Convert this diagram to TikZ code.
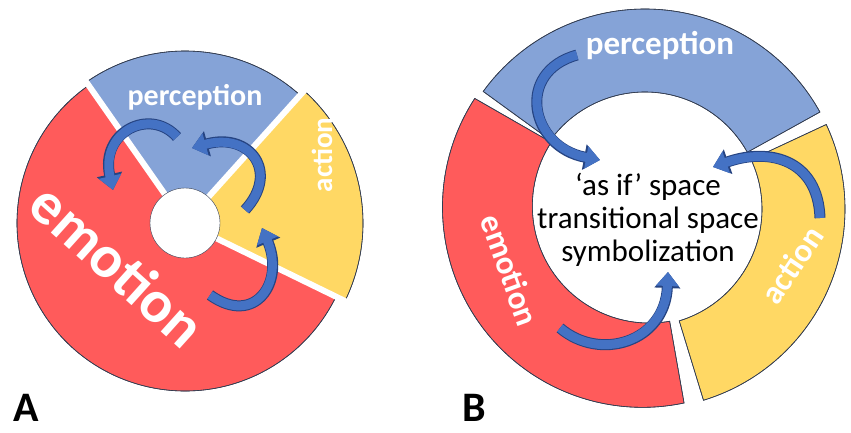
\documentclass[tikz,border=0pt]{standalone}
\usepackage{fontspec}
\setmainfont{Carlito}
\usetikzlibrary{arrows.meta}
\definecolor{colemotion}   {RGB}{255, 91, 91}
\definecolor{colperception}{RGB}{133,163,215}
\definecolor{colaction}    {RGB}{255,216,100}
\definecolor{colarrow}     {RGB}{ 68,114,196}
\definecolor{colarrowdark} {RGB}{ 38, 68,130}
\definecolor{coledge}      {RGB}{ 50, 60, 80}

\begin{document}
\begin{tikzpicture}[
    x=1pt, y=1pt,
    sector/.style={draw=coledge,line width=0.6pt},
    gap/.style={white,line width=6pt},
    label/.style={font={\fontsize{30}{32}\selectfont\bfseries},text=white},
    inner/.style={font={\fontsize{31}{33}\selectfont},align=center},
    panel/.style={font={\fontsize{42}{42}\selectfont\bfseries}},
    flow/.style={colarrow,line width=9pt,-{Triangle[width=22pt,length=14pt]},
        preaction={draw=colarrowdark,line width=11pt,-{Triangle[width=25pt,length=16pt]}}},
]
    \useasboundingbox (0,0) rectangle (851,432);

    % panel A
    \coordinate (cA) at (185,209);
    \fill[sector,fill=colperception] (cA) -- ++(48:172) arc[start angle=48,end angle=125,radius=172] -- cycle;
    \fill[sector,fill=colaction] (cA) -- ++(-26:178) arc[start angle=-26,end angle=48,radius=178] -- cycle;
    \fill[sector,fill=colemotion] (cA) -- ++(125:168) arc[start angle=125,end angle=334,radius=168] -- cycle;
    \draw[sector] (cA) ++(48:172) arc[start angle=48,end angle=125,radius=172];
    \draw[sector] (cA) ++(-26:178) arc[start angle=-26,end angle=48,radius=178];
    \draw[sector] (cA) ++(125:168) arc[start angle=125,end angle=334,radius=168];
    \foreach \a in {48,-26,125}
        \draw[gap] (cA) -- ++(\a:190);
    \node[circle,fill=white,draw=coledge,line width=0.4pt,minimum size=70pt] (holeA) at (cA) {};

    \node[label] (perceptA) at (195,335) {perception};
    \node[label,rotate=90,font={\fontsize{29}{30}\selectfont\bfseries}] (actionA) at (322,277) {action};
    \node[label,rotate=-42,font={\fontsize{60}{60}\selectfont\bfseries}] (emotionA) at (118,167) {emotion};

    \draw[flow] (177,295) .. controls (150,325) and (100,300) .. (113,242);
    \draw[flow] (245,222) .. controls (280,260) and (250,300) .. (192,284);
    \draw[flow] (210,137) .. controls (255,105) and (285,150) .. (262,204);

    \node[panel] (labelA) at (26,24) {A};

    % panel B
    \coordinate (cB) at (645,223);
    \fill[sector,fill=colperception] (cB) ++(29:200) arc[start angle=29,end angle=144,radius=200]
        -- ++(144:-83) arc[start angle=144,end angle=29,radius=117] -- cycle;
    \fill[sector,fill=colaction] (cB) ++(-73:200) arc[start angle=-73,end angle=25,radius=200]
        -- ++(25:-83) arc[start angle=25,end angle=-73,radius=117] -- cycle;
    \fill[sector,fill=colemotion] (cB) ++(147:203) arc[start angle=147,end angle=282,radius=200]
        -- ++(-80:-83) arc[start angle=280,end angle=147,radius=117] -- cycle;
    \draw[sector] (cB) ++(29:200) arc[start angle=29,end angle=144,radius=200]
        -- ++(144:-83) arc[start angle=144,end angle=29,radius=117] -- cycle;
    \draw[sector] (cB) ++(-73:200) arc[start angle=-73,end angle=25,radius=200]
        -- ++(25:-83) arc[start angle=25,end angle=-73,radius=117] -- cycle;
    \draw[sector] (cB) ++(147:203) arc[start angle=147,end angle=282,radius=200]
        -- ++(-80:-83) arc[start angle=280,end angle=147,radius=117] -- cycle;

    \node[label,font={\fontsize{33}{34}\selectfont\bfseries}] (perceptB) at (660,387) {perception};
    \node[label,rotate=-70,font={\fontsize{33}{34}\selectfont\bfseries}] (emotionB) at (510,162) {emotion};
    \node[label,rotate=56,font={\fontsize{33}{34}\selectfont\bfseries}] (actionB) at (792,167) {action};
    \node[inner] (space) at (648,212) {`as if' space\\transitional space\\symbolization};

    \draw[flow] (577,377) .. controls (515,360) and (530,285) .. (600,272);
    \draw[flow] (820,214) .. controls (818,272) and (770,285) .. (713,265);
    \draw[flow] (560,104) .. controls (600,70) and (665,90) .. (668,160);

    \node[panel] (labelB) at (474,24) {B};
\end{tikzpicture}
\end{document}
